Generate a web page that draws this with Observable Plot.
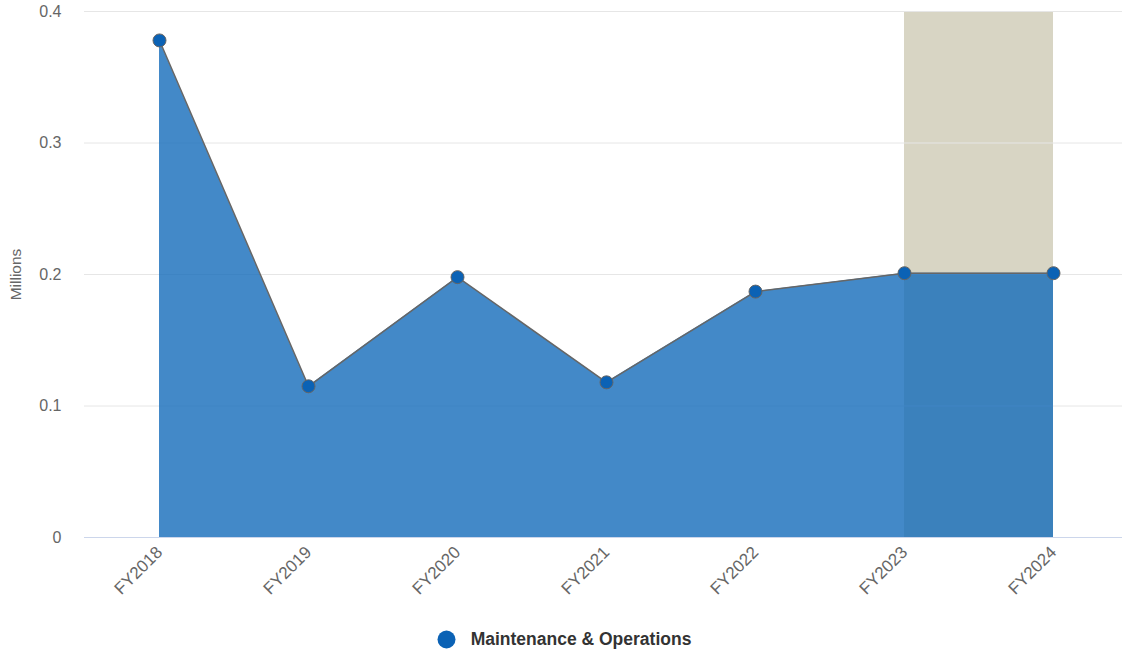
<!DOCTYPE html>
<html>
<head>
<meta charset="utf-8">
<script src="https://cdn.jsdelivr.net/npm/d3@7"></script>
<script src="https://cdn.jsdelivr.net/npm/@observablehq/plot@0.6"></script>
<style>
  html, body { margin: 0; padding: 0; background: #fff; overflow: hidden; }
  body { width: 1122px; height: 656px; font-family: "Liberation Sans", Arial, Helvetica, sans-serif; }
  #legend { display: flex; justify-content: center; align-items: center; height: 46px; padding-top: 6px; padding-left: 6px; }
  #legend .item { display: flex; align-items: center; font-weight: bold; font-size: 17.5px; color: #333; }
  #legend svg { margin-right: 15px; }
</style>
</head>
<body>
<div id="chart"></div>
<div id="legend"></div>
<script>
// Data
const years = ["FY2018", "FY2019", "FY2020", "FY2021", "FY2022", "FY2023", "FY2024"];
const values = [0.378, 0.115, 0.198, 0.118, 0.187, 0.201, 0.201];
const seriesName = "Maintenance & Operations";
const yTicks = [0, 0.1, 0.2, 0.3, 0.4];
const bandStart = "FY2023";
const bandEnd = "FY2024";
const yAxisLabel = "Millions";

const data = years.map((year, i) => ({year, value: values[i]}));
const band = [{x1: bandStart, x2: bandEnd, y1: 0, y2: 0.4}];

const seriesColor = "#0b62b5";

const chart = Plot.plot({
  width: 1122,
  height: 610,
  marginLeft: 84,
  marginRight: 0,
  marginTop: 11,
  marginBottom: 73,
  style: {fontFamily: '"Liberation Sans", Arial, Helvetica, sans-serif', fontSize: "16px", color: "#666", background: "#fff"},
  x: {type: "point", domain: years, padding: 0.49, insetRight: -5},
  y: {domain: [0, 0.4], ticks: yTicks},
  marks: [
    Plot.rect(band, {x1: "x1", x2: "x2", y1: "y1", y2: "y2", fill: "#d8d5c4"}),
    Plot.gridY(yTicks.filter(d => d > 0), {stroke: "#e6e6e6", strokeOpacity: 1, strokeWidth: 1}),
    Plot.areaY(data, {x: "year", y: "value", fill: "rgb(20,108,186)", fillOpacity: 0.8}),
    Plot.ruleY([0], {stroke: "#ccd6eb", strokeWidth: 1}),
    Plot.lineY(data, {x: "year", y: "value", stroke: "#666", strokeWidth: 1.5}),
    Plot.dot(data, {x: "year", y: "value", r: 6.5, fill: seriesColor, stroke: "#666", strokeWidth: 1}),
    Plot.axisY(yTicks, {
      tickSize: 0, tickPadding: 23, fill: "#666", fontSize: 16,
      tickFormat: d => String(+d.toFixed(1)),
      label: null
    }),
    Plot.axisX({
      tickSize: 0, tickPadding: 12, tickRotate: -45, fill: "#666", fontSize: 17, label: null
    }),
    Plot.text([yAxisLabel], {
      frameAnchor: "left", dx: -68, rotate: -90, textAnchor: "middle", fill: "#666", fontSize: 15.5, y: () => 0.2
    })
  ]
});
document.getElementById("chart").appendChild(chart);

const legend = document.getElementById("legend");
legend.innerHTML = `<div class="item"><svg width="19" height="19"><circle cx="9.5" cy="9.5" r="9" fill="${seriesColor}"></circle></svg><span>${seriesName}</span></div>`;
</script>
</body>
</html>
